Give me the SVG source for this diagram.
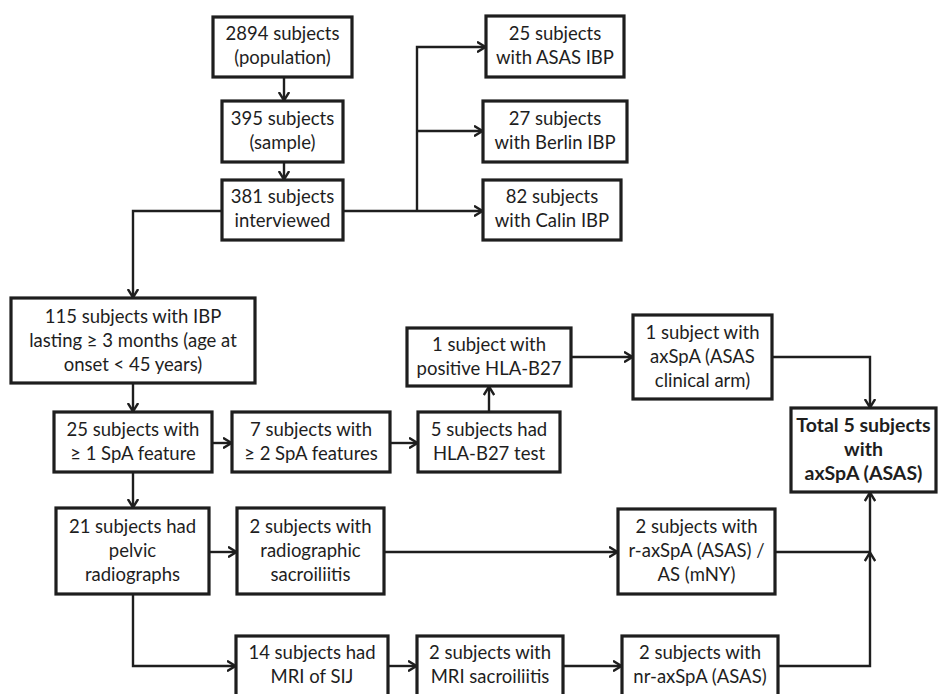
<svg xmlns="http://www.w3.org/2000/svg" width="938" height="694" viewBox="0 0 938 694">
<style>
.box rect{fill:#fff;stroke:#1e1e1e;stroke-width:3.2}
.box text{font-family:Lato,"Open Sans","Liberation Sans",sans-serif;font-size:18.5px;fill:#1e1e1e;text-anchor:middle}
.box text.b{font-weight:bold;font-size:19.5px}
#connectors path{fill:none;stroke:#1e1e1e;stroke-width:2.4;marker-end:url(#ah)}
#connectors path.n{marker-end:none}
</style>
<defs>
<marker id="ah" viewBox="0 0 10 12" refX="9.5" refY="6" markerWidth="10" markerHeight="12" markerUnits="userSpaceOnUse" orient="auto">
<path d="M0.5,0.8 L9,6 L0.5,11.2" fill="none" stroke="#1e1e1e" stroke-width="2.4"/>
</marker>
</defs>
<rect width="938" height="694" fill="#fff"/>
<g id="connectors">
<path d="M284,77 V101"/>
<path d="M284,162 V180"/>
<path d="M343,211 H483"/>
<path d="M417,211 V47 H486"/>
<path d="M417,131 H483"/>
<path d="M222,211 H133 V298"/>
<path d="M133,383 V412"/>
<path d="M212,443 H232"/>
<path d="M390,443 H418"/>
<path d="M489,412 V386"/>
<path d="M571,357 H633"/>
<path d="M772,357 H870 V408"/>
<path d="M133,472 V508"/>
<path d="M209,552 H237"/>
<path d="M384,552 H618"/>
<path class="n" d="M775,552 H870"/>
<path d="M778,666 H870 V552"/>
<path d="M870,552 V492"/>
<path d="M133,594 V666 H236"/>
<path d="M388,666 H417"/>
<path d="M563,666 H622"/>
</g>
<g id="n2894" class="box"><rect x="213" y="17" width="139" height="60"/><text x="282.5" y="40">2894 subjects</text><text x="282.5" y="64">(population)</text></g>
<g id="n395" class="box"><rect x="222" y="101" width="121" height="61"/><text x="282.5" y="125">395 subjects</text><text x="282.5" y="149">(sample)</text></g>
<g id="n381" class="box"><rect x="222" y="180" width="121" height="60"/><text x="282.5" y="203">381 subjects</text><text x="282.5" y="227">interviewed</text></g>
<g id="nASAS" class="box"><rect x="486" y="16" width="138" height="61"/><text x="555" y="40">25 subjects</text><text x="555" y="64">with ASAS IBP</text></g>
<g id="nBerlin" class="box"><rect x="483" y="101" width="144" height="61"/><text x="555" y="125">27 subjects</text><text x="555" y="149">with Berlin IBP</text></g>
<g id="nCalin" class="box"><rect x="483" y="180" width="138" height="60"/><text x="552" y="203">82 subjects</text><text x="552" y="227">with Calin IBP</text></g>
<g id="n115" class="box"><rect x="11" y="298" width="244" height="85"/><text x="133" y="323">115 subjects with IBP</text><text x="133" y="347">lasting ≥ 3 months (age at</text><text x="133" y="371">onset &lt; 45 years)</text></g>
<g id="n25" class="box"><rect x="54" y="412" width="158" height="60"/><text x="133" y="436">25 subjects with</text><text x="133" y="460">≥ 1 SpA feature</text></g>
<g id="n7" class="box"><rect x="232" y="412" width="158" height="60"/><text x="311" y="436">7 subjects with</text><text x="311" y="460">≥ 2 SpA features</text></g>
<g id="n5" class="box"><rect x="418" y="412" width="142" height="60"/><text x="489" y="436">5 subjects had</text><text x="489" y="460">HLA-B27 test</text></g>
<g id="nPos" class="box"><rect x="407" y="328" width="164" height="58"/><text x="489" y="351">1 subject with</text><text x="489" y="375">positive HLA-B27</text></g>
<g id="nClin" class="box"><rect x="633" y="315" width="139" height="84"/><text x="702.5" y="339">1 subject with</text><text x="702.5" y="363">axSpA (ASAS</text><text x="702.5" y="387">clinical arm)</text></g>
<g id="nTotal" class="box"><rect x="791" y="408" width="145" height="84"/><text class="b" x="863.5" y="432">Total 5 subjects</text><text class="b" x="863.5" y="456">with</text><text class="b" x="863.5" y="480">axSpA (ASAS)</text></g>
<g id="n21" class="box"><rect x="56" y="508" width="153" height="86"/><text x="132.5" y="533">21 subjects had</text><text x="132.5" y="557">pelvic</text><text x="132.5" y="581">radiographs</text></g>
<g id="nRad" class="box"><rect x="237" y="508" width="147" height="86"/><text x="310.5" y="533">2 subjects with</text><text x="310.5" y="557">radiographic</text><text x="310.5" y="581">sacroiliitis</text></g>
<g id="nR" class="box"><rect x="618" y="509" width="157" height="85"/><text x="696.5" y="533">2 subjects with</text><text x="696.5" y="557">r-axSpA (ASAS) /</text><text x="696.5" y="581">AS (mNY)</text></g>
<g id="n14" class="box"><rect x="236" y="636" width="152" height="70"/><text x="312" y="659">14 subjects had</text><text x="312" y="683">MRI of SIJ</text></g>
<g id="nMRI" class="box"><rect x="417" y="636" width="146" height="70"/><text x="490" y="659">2 subjects with</text><text x="490" y="683">MRI sacroiliitis</text></g>
<g id="nNR" class="box"><rect x="622" y="636" width="156" height="70"/><text x="700" y="659">2 subjects with</text><text x="700" y="683">nr-axSpA (ASAS)</text></g>
</svg>
